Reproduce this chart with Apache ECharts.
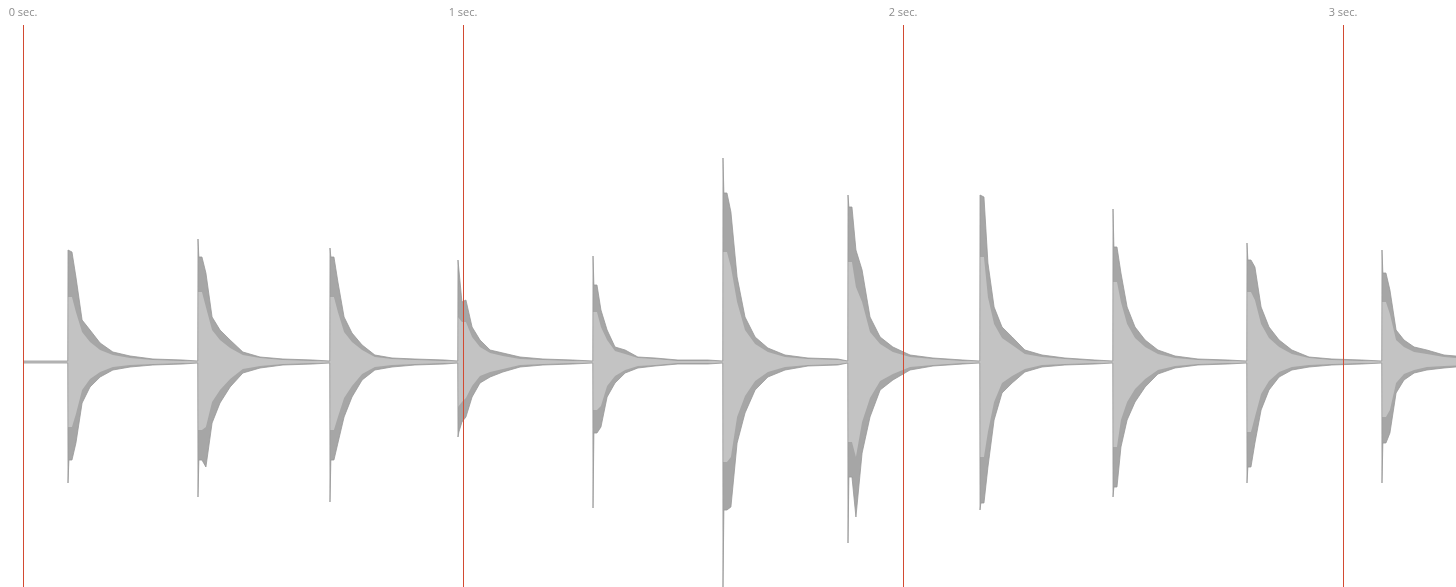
<!DOCTYPE html>
<html>
<head>
<meta charset="utf-8">
<title>waveform</title>
<script src="https://cdn.jsdelivr.net/npm/echarts@6/dist/echarts.min.js"></script>
<style>
  html, body { margin: 0; padding: 0; background: #fff; overflow: hidden; }
  #wave { width: 1456px; height: 587px; }
</style>
</head>
<body>
<div id="wave"></div>
<script>
// time axis (seconds) and its tick labels
var TICKS = [0, 1, 2, 3];
var TICK_LABELS = ['0 sec.', '1 sec.', '2 sec.', '3 sec.'];
var X_MAX = 3.2568;

// onset of each hit, seconds
var HIT_TIMES = [0.1023, 0.3977, 0.6977, 0.9886, 1.2955, 1.5909, 1.875, 2.175, 2.4773, 2.7818, 3.0886];
// where the envelope was read, ms after onset (first one is the onset spike)
var OFFSETS_MS = [0, 2, 9, 18, 32, 50, 73, 102, 141, 193, 261];
var NOISE = 1;

// outer (peak) envelope, above / below the centre line
var OUTER_TOP = [
  [112, 110, 110, 85, 42, 32, 19, 10, 6, 3, 2],
  [123, 105, 105, 89, 45, 32, 22, 10, 5, 3, 2],
  [114, 105, 105, 80, 45, 29, 17, 7, 4, 3, 2],
  [102, 100, 60, 62, 35, 22, 12, 9, 5, 3, 2],
  [106, 77, 77, 52, 32, 15, 12, 5, 4, 2, 2],
  [204, 169, 169, 150, 85, 45, 25, 14, 7, 4, 3],
  [167, 155, 155, 112, 92, 45, 25, 15, 7, 4, 2],
  [167, 165, 165, 99, 55, 35, 25, 12, 7, 4, 2],
  [153, 115, 115, 89, 55, 35, 22, 12, 6, 3, 2],
  [119, 102, 102, 95, 55, 35, 22, 12, 5, 3, 2],
  [112, 89, 89, 72, 32, 22, 15, 12, 7, 5, 3]
];
var OUTER_BOTTOM = [
  [121, 98, 98, 81, 41, 25, 15, 8, 5, 3, 2],
  [135, 98, 98, 105, 61, 41, 25, 11, 6, 3, 2],
  [140, 98, 98, 81, 55, 35, 18, 8, 5, 3, 2],
  [75, 70, 60, 55, 35, 21, 15, 10, 5, 3, 2],
  [146, 71, 71, 65, 35, 21, 11, 6, 4, 2, 2],
  [225, 148, 148, 145, 81, 51, 28, 15, 8, 4, 3],
  [181, 115, 115, 155, 91, 55, 28, 18, 8, 4, 2],
  [148, 141, 141, 105, 58, 31, 21, 10, 5, 3, 2],
  [135, 125, 125, 85, 58, 40, 25, 12, 6, 3, 2],
  [121, 105, 105, 81, 48, 28, 15, 8, 5, 3, 2],
  [121, 81, 81, 71, 31, 18, 11, 8, 6, 4, 3]
];

// inner (body) envelope, from the onset on (matches OFFSETS_MS[1..])
var INNER_TOP = [
  [65, 65, 50, 30, 20, 12, 7, 4, 2, 1],
  [70, 70, 55, 32, 22, 14, 7, 4, 2, 1],
  [65, 65, 50, 30, 20, 12, 5, 3, 2, 1],
  [45, 40, 40, 25, 15, 9, 6, 3, 2, 1],
  [50, 50, 35, 22, 11, 8, 4, 3, 1, 1],
  [110, 110, 95, 60, 32, 18, 10, 5, 3, 2],
  [100, 100, 75, 60, 30, 18, 10, 5, 3, 1],
  [105, 105, 65, 38, 24, 17, 8, 5, 3, 1],
  [80, 80, 60, 38, 24, 15, 8, 4, 2, 1],
  [70, 70, 62, 38, 24, 15, 8, 4, 2, 1],
  [60, 60, 48, 22, 15, 10, 8, 5, 3, 2]
];
var INNER_BOTTOM = [
  [65, 65, 52, 28, 17, 10, 5, 3, 2, 1],
  [68, 68, 65, 40, 28, 17, 7, 4, 2, 1],
  [68, 68, 55, 36, 24, 12, 5, 3, 2, 1],
  [45, 40, 36, 24, 14, 10, 7, 3, 2, 1],
  [48, 48, 44, 24, 14, 8, 4, 3, 1, 1],
  [100, 100, 95, 55, 34, 19, 10, 5, 3, 2],
  [80, 80, 95, 60, 36, 19, 12, 5, 3, 1],
  [95, 95, 70, 40, 21, 14, 7, 3, 2, 1],
  [85, 85, 58, 40, 27, 17, 8, 4, 2, 1],
  [70, 70, 55, 32, 19, 10, 5, 3, 2, 1],
  [55, 55, 48, 21, 12, 8, 5, 4, 3, 2]
];

function buildEnvelope(table, sign, withSpike) {
  var pts = [[0, sign * NOISE]];
  HIT_TIMES.forEach(function(t0, i) {
    var vals = table[i];
    pts.push([t0 - 0.0005, sign * NOISE]);
    if (withSpike) {
      vals.forEach(function(v, j) {
        pts.push([t0 + OFFSETS_MS[j] / 1000, sign * v]);
      });
    } else {
      pts.push([t0, sign * vals[0]]);
      vals.forEach(function(v, j) {
        pts.push([t0 + OFFSETS_MS[j + 1] / 1000, sign * v]);
      });
    }
  });
  if (pts[pts.length - 1][0] < X_MAX) pts.push([X_MAX, sign * NOISE]);
  return pts;
}

function areaSeries(data, fill, line) {
  return {
    type: 'line',
    data: data,
    symbol: 'none',
    silent: true,
    lineStyle: { color: line, width: line ? 0.8 : 0 },
    areaStyle: { color: fill, opacity: 1, origin: 'auto' }
  };
}

var chart = echarts.init(document.getElementById('wave'));
var option = {
  animation: false,
  backgroundColor: '#fff',
  grid: { left: 23, right: 0, top: 25, bottom: 0, outerBoundsMode: 'none', containLabel: false },
  xAxis: {
    type: 'value',
    position: 'top',
    min: 0,
    max: X_MAX,
    interval: 1,
    z: 10,
    axisLine: { show: false },
    axisTick: { show: false },
    // second markers, drawn over the waveform
    splitLine: {
      show: true,
      showMinLine: true,
      showMaxLine: false,
      lineStyle: { color: '#d24a32', width: 1 }
    },
    axisLabel: {
      margin: 7,
      color: '#8c8c8c',
      fontSize: 11,
      fontFamily: 'Open Sans',
      formatter: function(v) {
        var k = TICKS.indexOf(v);
        return k >= 0 ? TICK_LABELS[k] : '';
      }
    }
  },
  yAxis: { type: 'value', min: -225, max: 337, show: false },
  series: [
    areaSeries(buildEnvelope(OUTER_TOP, 1, true), '#a6a6a6', '#989898'),
    areaSeries(buildEnvelope(OUTER_BOTTOM, -1, true), '#a6a6a6', '#989898'),
    areaSeries(buildEnvelope(INNER_TOP, 1, false), '#c3c3c3', null),
    areaSeries(buildEnvelope(INNER_BOTTOM, -1, false), '#c3c3c3', null)
  ]
};
chart.setOption(option);
</script>
</body>
</html>
